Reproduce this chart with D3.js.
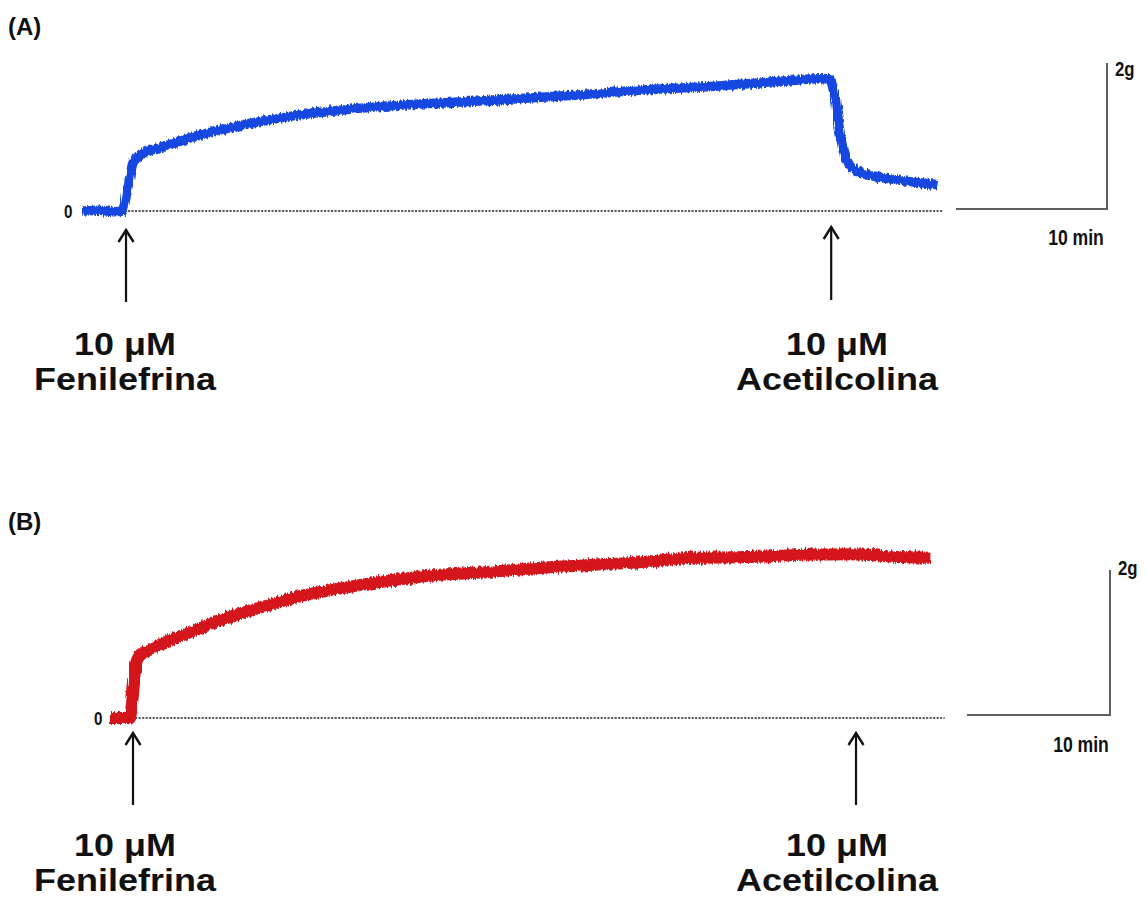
<!DOCTYPE html>
<html>
<head>
<meta charset="utf-8">
<script src="https://cdn.jsdelivr.net/npm/d3@7"></script>
<style>
  html, body { margin: 0; padding: 0; background: #fff; }
  svg { display: block; }
  text { font-family: "Liberation Sans", Arial, "Helvetica", sans-serif; font-weight: bold; fill: #111; }
</style>
</head>
<body>
<svg id="chart" width="1146" height="904"></svg>
<script>
// Isometric tension recordings (force in g, time in min; t = 0 at phenylephrine addition)

// Panel A: intact ring — relaxes after acetylcholine
const timeA  = [-2.65, -1.52, -0.53, -0.07, 0.33, 0.66, 0.86, 1.13, 1.79, 2.91, 5.10, 7.28, 9.74, 11.85, 14.37, 16.42, 21.0, 25.6, 30.1, 34.6, 39.2, 43.8, 46.2, 46.75, 47.15, 47.48, 47.81, 48.15, 48.8, 49.9, 51.5, 54.0];
const forceA = [0, 0.01, -0.01, 0, 0.33, 0.66, 0.71, 0.76, 0.83, 0.90, 1.04, 1.15, 1.25, 1.32, 1.38, 1.42, 1.48, 1.53, 1.59, 1.66, 1.71, 1.78, 1.81, 1.81, 1.56, 1.07, 0.74, 0.63, 0.53, 0.47, 0.42, 0.36];

// Panel B: no relaxation after acetylcholine
const timeB  = [-1.47, -0.77, -0.07, 0.14, 0.35, 0.63, 1.12, 2.03, 2.94, 4.83, 6.57, 8.32, 10.21, 11.82, 13.85, 17.55, 21.2, 24.8, 28.5, 32.1, 35.73, 39.4, 43.1, 46.7, 50.3, 54.0, 55.9];
const forceB = [0, 0, 0, 0.35, 0.76, 0.86, 0.92, 1.01, 1.09, 1.24, 1.37, 1.48, 1.59, 1.68, 1.76, 1.88, 1.97, 2.01, 2.07, 2.11, 2.15, 2.21, 2.22, 2.25, 2.26, 2.22, 2.21];

// Drug additions (min)
const eventsA = [0.2, 46.9];
const eventsB = [0.14, 50.7];
const drugs = ["Fenilefrina", "Acetilcolina"];
const doseLabel = "10 μM";

// Calibration bars
const barTime = 10;   // min
const barForce = 2;   // g
const barTimeLabel = "10 min";
const barForceLabel = "2g";
const zeroLabel = "0";

const svg = d3.select("#chart");

// Trace texture: fine vertical jitter on the recorded line
const defs = svg.append("defs");
const f = defs.append("filter").attr("id", "jitter")
  .attr("filterUnits", "userSpaceOnUse")
  .attr("x", 0).attr("y", 0).attr("width", 1146).attr("height", 904);
f.append("feTurbulence").attr("type", "fractalNoise")
  .attr("baseFrequency", "0.6 0.05").attr("numOctaves", 2).attr("seed", 4).attr("result", "noise");
f.append("feDisplacementMap").attr("in", "SourceGraphic").attr("in2", "noise")
  .attr("scale", 6).attr("xChannelSelector", "G").attr("yChannelSelector", "R").attr("result", "disp");
f.append("feGaussianBlur").attr("in", "disp").attr("stdDeviation", 0.5);

const panels = [
  {
    tag: "(A)", tagY: 35,
    time: timeA, force: forceA, events: eventsA,
    color: "#1646e0", width: 9.5,
    x: d3.scaleLinear().domain([0, 10]).range([123, 274]),
    y: d3.scaleLinear().domain([0, 2]).range([211, 65]),
    zeroX: 64, zeroEnd: 54.3,
    arrowHead: [230, 227], arrowTail: [302, 300],
    bar: { x: 1107, y: 209, labelForceX: 1115, labelForceY: 76, labelTimeX: 1076, labelTimeY: 245 },
    labelX: [125, 837], labelY: [355, 390]
  },
  {
    tag: "(B)", tagY: 530,
    time: timeB, force: forceB, events: eventsB,
    color: "#d4121a", width: 12,
    x: d3.scaleLinear().domain([0, 10]).range([131, 274]),
    y: d3.scaleLinear().domain([0, 2]).range([718, 573]),
    zeroX: 94, zeroEnd: 56.9,
    arrowHead: [733, 733], arrowTail: [805, 805],
    bar: { x: 1110, y: 715, labelForceX: 1118, labelForceY: 575, labelTimeX: 1081, labelTimeY: 752 },
    labelX: [125, 837], labelY: [856, 891]
  }
];

// condensed bold text (horizontally compressed)
function narrowText(g, x, y, size, txt, anchor) {
  return g.append("text")
    .attr("text-anchor", anchor || "start")
    .attr("transform", `translate(${x},${y}) scale(0.8,1)`)
    .attr("font-size", size).text(txt);
}

panels.forEach(p => {
  const g = svg.append("g");
  const data = p.time.map((t, i) => ({ t, v: p.force[i] }));

  // panel tag
  g.append("text").attr("x", 8).attr("y", p.tagY)
    .attr("font-size", 24).text(p.tag);

  // zero reference (dotted)
  g.append("line")
    .attr("x1", p.x(p.events[0] - 0.1)).attr("x2", p.x(p.zeroEnd))
    .attr("y1", p.y(0)).attr("y2", p.y(0))
    .attr("stroke", "#2a2a2a").attr("stroke-width", 1.3)
    .attr("stroke-dasharray", "2.2,1.3");

  narrowText(g, p.zeroX, p.y(0) + 7, 19, zeroLabel);

  // force trace
  const line = d3.line()
    .x(d => p.x(d.t)).y(d => p.y(d.v))
    .curve(d3.curveMonotoneX);
  g.append("path").datum(data)
    .attr("d", line)
    .attr("fill", "none")
    .attr("stroke", p.color)
    .attr("stroke-width", p.width)
    .attr("stroke-linejoin", "round")
    .attr("stroke-linecap", "butt")
    .attr("filter", "url(#jitter)");

  // drug-addition arrows
  p.events.forEach((t, i) => {
    const ax = p.x(t);
    const h = p.arrowHead[i], tl = p.arrowTail[i];
    g.append("line").attr("x1", ax).attr("x2", ax).attr("y1", h + 1).attr("y2", tl)
      .attr("stroke", "#111").attr("stroke-width", 2.2);
    g.append("path")
      .attr("d", `M${ax - 7.5},${h + 12} L${ax},${h} L${ax + 7.5},${h + 12}`)
      .attr("fill", "none").attr("stroke", "#111").attr("stroke-width", 2.4);

    const lab = g.append("g").attr("transform", `translate(${p.labelX[i]},0)`);
    lab.append("text").attr("text-anchor", "middle")
      .attr("transform", `translate(0,${p.labelY[0]}) scale(1.16,1)`)
      .attr("font-size", 31).text(doseLabel);
    lab.append("text").attr("text-anchor", "middle")
      .attr("transform", `translate(0,${p.labelY[1]}) scale(1.16,1)`)
      .attr("font-size", 31).text(drugs[i]);
  });

  // calibration bars
  const bw = p.x(barTime) - p.x(0);
  const bh = p.y(0) - p.y(barForce);
  const b = p.bar;
  g.append("path")
    .attr("d", `M${b.x - bw},${b.y} L${b.x},${b.y} L${b.x},${b.y - bh}`)
    .attr("fill", "none").attr("stroke", "#5e5e5e").attr("stroke-width", 2);
  narrowText(g, b.labelForceX, b.labelForceY, 21, barForceLabel);
  narrowText(g, b.labelTimeX, b.labelTimeY, 22, barTimeLabel, "middle");
});
</script>
</body>
</html>
